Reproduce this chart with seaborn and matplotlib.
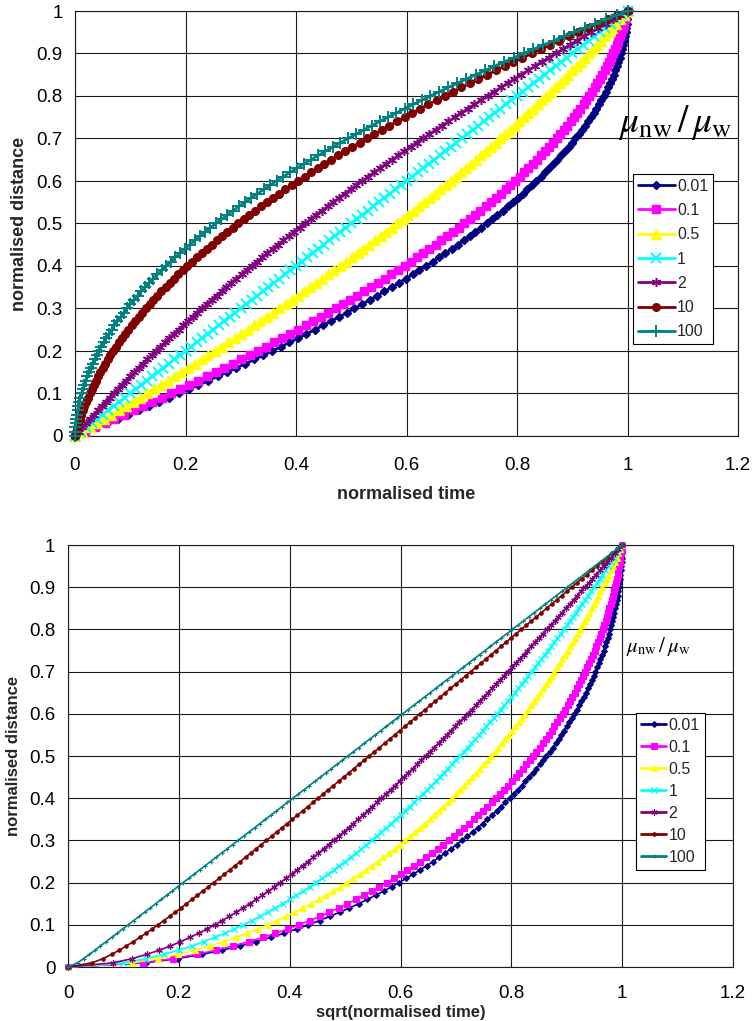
import numpy as np
import matplotlib
matplotlib.use("Agg")
import matplotlib.pyplot as plt
import seaborn as sns

# Normalised front position (sampled every 1 % of the tube length)
distance = [
    0.00, 0.01, 0.02, 0.03, 0.04, 0.05, 0.06, 0.07, 0.08, 0.09,
    0.10, 0.11, 0.12, 0.13, 0.14, 0.15, 0.16, 0.17, 0.18, 0.19,
    0.20, 0.21, 0.22, 0.23, 0.24, 0.25, 0.26, 0.27, 0.28, 0.29,
    0.30, 0.31, 0.32, 0.33, 0.34, 0.35, 0.36, 0.37, 0.38, 0.39,
    0.40, 0.41, 0.42, 0.43, 0.44, 0.45, 0.46, 0.47, 0.48, 0.49,
    0.50, 0.51, 0.52, 0.53, 0.54, 0.55, 0.56, 0.57, 0.58, 0.59,
    0.60, 0.61, 0.62, 0.63, 0.64, 0.65, 0.66, 0.67, 0.68, 0.69,
    0.70, 0.71, 0.72, 0.73, 0.74, 0.75, 0.76, 0.77, 0.78, 0.79,
    0.80, 0.81, 0.82, 0.83, 0.84, 0.85, 0.86, 0.87, 0.88, 0.89,
    0.90, 0.91, 0.92, 0.93, 0.94, 0.95, 0.96, 0.97, 0.98, 0.99, 1.00,
]

# Normalised time at which the front reaches each position, per viscosity ratio
time_ratio_0_01 = [
    0.0, 0.0197, 0.0392, 0.0585, 0.0776, 0.0966, 0.1153, 0.1338, 0.1521, 0.1703,
    0.1882, 0.2060, 0.2235, 0.2409, 0.2580, 0.2750, 0.2917, 0.3083, 0.3247, 0.3409,
    0.3568, 0.3726, 0.3882, 0.4036, 0.4188, 0.4338, 0.4486, 0.4632, 0.4776, 0.4918,
    0.5058, 0.5197, 0.5333, 0.5467, 0.5600, 0.5730, 0.5858, 0.5985, 0.6109, 0.6232,
    0.6352, 0.6471, 0.6588, 0.6702, 0.6815, 0.6926, 0.7035, 0.7142, 0.7247, 0.7350,
    0.7450, 0.7550, 0.7647, 0.7742, 0.7835, 0.7926, 0.8015, 0.8102, 0.8188, 0.8271,
    0.8352, 0.8432, 0.8509, 0.8585, 0.8658, 0.8730, 0.8800, 0.8867, 0.8933, 0.8997,
    0.9058, 0.9118, 0.9176, 0.9232, 0.9286, 0.9338, 0.9388, 0.9436, 0.9482, 0.9526,
    0.9568, 0.9609, 0.9647, 0.9683, 0.9717, 0.9750, 0.9780, 0.9809, 0.9835, 0.9860,
    0.9882, 0.9903, 0.9921, 0.9938, 0.9953, 0.9966, 0.9976, 0.9985, 0.9992, 0.9997, 1.0,
]
time_ratio_0_1 = [
    0.0, 0.0181, 0.0360, 0.0538, 0.0714, 0.0889, 0.1061, 0.1233, 0.1402, 0.1570,
    0.1736, 0.1901, 0.2064, 0.2225, 0.2385, 0.2543, 0.2700, 0.2854, 0.3008, 0.3159,
    0.3309, 0.3457, 0.3604, 0.3749, 0.3892, 0.4034, 0.4174, 0.4313, 0.4449, 0.4585,
    0.4718, 0.4850, 0.4980, 0.5109, 0.5236, 0.5361, 0.5485, 0.5607, 0.5728, 0.5846,
    0.5964, 0.6079, 0.6193, 0.6305, 0.6416, 0.6525, 0.6632, 0.6738, 0.6842, 0.6945,
    0.7045, 0.7145, 0.7242, 0.7338, 0.7432, 0.7525, 0.7616, 0.7705, 0.7793, 0.7879,
    0.7964, 0.8046, 0.8128, 0.8207, 0.8285, 0.8361, 0.8436, 0.8509, 0.8580, 0.8650,
    0.8718, 0.8785, 0.8849, 0.8913, 0.8974, 0.9034, 0.9092, 0.9149, 0.9204, 0.9257,
    0.9309, 0.9359, 0.9408, 0.9454, 0.9500, 0.9543, 0.9585, 0.9625, 0.9664, 0.9701,
    0.9736, 0.9770, 0.9802, 0.9833, 0.9861, 0.9889, 0.9914, 0.9938, 0.9960, 0.9981, 1.0,
]
time_ratio_0_5 = [
    0.0, 0.0133, 0.0265, 0.0397, 0.0528, 0.0658, 0.0788, 0.0917, 0.1045, 0.1173,
    0.1300, 0.1426, 0.1552, 0.1677, 0.1801, 0.1925, 0.2048, 0.2170, 0.2292, 0.2413,
    0.2533, 0.2653, 0.2772, 0.2890, 0.3008, 0.3125, 0.3241, 0.3357, 0.3472, 0.3586,
    0.3700, 0.3813, 0.3925, 0.4037, 0.4148, 0.4258, 0.4368, 0.4477, 0.4585, 0.4693,
    0.4800, 0.4906, 0.5012, 0.5117, 0.5221, 0.5325, 0.5428, 0.5530, 0.5632, 0.5733,
    0.5833, 0.5933, 0.6032, 0.6130, 0.6228, 0.6325, 0.6421, 0.6517, 0.6612, 0.6706,
    0.6800, 0.6893, 0.6985, 0.7077, 0.7168, 0.7258, 0.7348, 0.7437, 0.7525, 0.7613,
    0.7700, 0.7786, 0.7872, 0.7957, 0.8041, 0.8125, 0.8208, 0.8290, 0.8372, 0.8453,
    0.8533, 0.8613, 0.8692, 0.8770, 0.8848, 0.8925, 0.9001, 0.9077, 0.9152, 0.9226,
    0.9300, 0.9373, 0.9445, 0.9517, 0.9588, 0.9658, 0.9728, 0.9797, 0.9865, 0.9933, 1.0,
]
time_ratio_1 = [
    0.00, 0.01, 0.02, 0.03, 0.04, 0.05, 0.06, 0.07, 0.08, 0.09,
    0.10, 0.11, 0.12, 0.13, 0.14, 0.15, 0.16, 0.17, 0.18, 0.19,
    0.20, 0.21, 0.22, 0.23, 0.24, 0.25, 0.26, 0.27, 0.28, 0.29,
    0.30, 0.31, 0.32, 0.33, 0.34, 0.35, 0.36, 0.37, 0.38, 0.39,
    0.40, 0.41, 0.42, 0.43, 0.44, 0.45, 0.46, 0.47, 0.48, 0.49,
    0.50, 0.51, 0.52, 0.53, 0.54, 0.55, 0.56, 0.57, 0.58, 0.59,
    0.60, 0.61, 0.62, 0.63, 0.64, 0.65, 0.66, 0.67, 0.68, 0.69,
    0.70, 0.71, 0.72, 0.73, 0.74, 0.75, 0.76, 0.77, 0.78, 0.79,
    0.80, 0.81, 0.82, 0.83, 0.84, 0.85, 0.86, 0.87, 0.88, 0.89,
    0.90, 0.91, 0.92, 0.93, 0.94, 0.95, 0.96, 0.97, 0.98, 0.99, 1.00,
]
time_ratio_2 = [
    0.0, 0.0067, 0.0135, 0.0203, 0.0272, 0.0342, 0.0412, 0.0483, 0.0555, 0.0627,
    0.0700, 0.0774, 0.0848, 0.0923, 0.0999, 0.1075, 0.1152, 0.1230, 0.1308, 0.1387,
    0.1467, 0.1547, 0.1628, 0.1710, 0.1792, 0.1875, 0.1959, 0.2043, 0.2128, 0.2214,
    0.2300, 0.2387, 0.2475, 0.2563, 0.2652, 0.2742, 0.2832, 0.2923, 0.3015, 0.3107,
    0.3200, 0.3294, 0.3388, 0.3483, 0.3579, 0.3675, 0.3772, 0.3870, 0.3968, 0.4067,
    0.4167, 0.4267, 0.4368, 0.4470, 0.4572, 0.4675, 0.4779, 0.4883, 0.4988, 0.5094,
    0.5200, 0.5307, 0.5415, 0.5523, 0.5632, 0.5742, 0.5852, 0.5963, 0.6075, 0.6187,
    0.6300, 0.6414, 0.6528, 0.6643, 0.6759, 0.6875, 0.6992, 0.7110, 0.7228, 0.7347,
    0.7467, 0.7587, 0.7708, 0.7830, 0.7952, 0.8075, 0.8199, 0.8323, 0.8448, 0.8574,
    0.8700, 0.8827, 0.8955, 0.9083, 0.9212, 0.9342, 0.9472, 0.9603, 0.9735, 0.9867, 1.0,
]
time_ratio_10 = [
    0.0, 0.0019, 0.0040, 0.0062, 0.0086, 0.0111, 0.0139, 0.0167, 0.0198, 0.0230,
    0.0264, 0.0299, 0.0336, 0.0375, 0.0415, 0.0457, 0.0500, 0.0546, 0.0592, 0.0641,
    0.0691, 0.0743, 0.0796, 0.0851, 0.0908, 0.0966, 0.1026, 0.1087, 0.1151, 0.1215,
    0.1282, 0.1350, 0.1420, 0.1491, 0.1564, 0.1639, 0.1715, 0.1793, 0.1872, 0.1954,
    0.2036, 0.2121, 0.2207, 0.2295, 0.2384, 0.2475, 0.2568, 0.2662, 0.2758, 0.2855,
    0.2955, 0.3055, 0.3158, 0.3262, 0.3368, 0.3475, 0.3584, 0.3695, 0.3807, 0.3921,
    0.4036, 0.4154, 0.4272, 0.4393, 0.4515, 0.4639, 0.4764, 0.4891, 0.5020, 0.5150,
    0.5282, 0.5415, 0.5551, 0.5687, 0.5826, 0.5966, 0.6108, 0.6251, 0.6396, 0.6543,
    0.6691, 0.6841, 0.6992, 0.7146, 0.7300, 0.7457, 0.7615, 0.7775, 0.7936, 0.8099,
    0.8264, 0.8430, 0.8598, 0.8767, 0.8939, 0.9111, 0.9286, 0.9462, 0.9640, 0.9819, 1.0,
]
time_ratio_100 = [
    0.0, 0.0003, 0.0008, 0.0015, 0.0024, 0.0034, 0.0047, 0.0062, 0.0079, 0.0097,
    0.0118, 0.0140, 0.0165, 0.0191, 0.0220, 0.0250, 0.0283, 0.0317, 0.0353, 0.0391,
    0.0432, 0.0474, 0.0518, 0.0564, 0.0612, 0.0662, 0.0714, 0.0768, 0.0824, 0.0882,
    0.0942, 0.1003, 0.1067, 0.1133, 0.1200, 0.1270, 0.1342, 0.1415, 0.1491, 0.1568,
    0.1647, 0.1729, 0.1812, 0.1898, 0.1985, 0.2074, 0.2165, 0.2258, 0.2353, 0.2450,
    0.2550, 0.2650, 0.2753, 0.2858, 0.2965, 0.3074, 0.3185, 0.3298, 0.3412, 0.3529,
    0.3648, 0.3768, 0.3891, 0.4015, 0.4142, 0.4270, 0.4400, 0.4533, 0.4667, 0.4803,
    0.4942, 0.5082, 0.5224, 0.5368, 0.5514, 0.5662, 0.5812, 0.5964, 0.6118, 0.6274,
    0.6432, 0.6592, 0.6753, 0.6917, 0.7083, 0.7250, 0.7420, 0.7591, 0.7765, 0.7940,
    0.8118, 0.8297, 0.8479, 0.8662, 0.8847, 0.9034, 0.9224, 0.9415, 0.9608, 0.9803, 1.0,
]

ratio_labels = ["0.01", "0.1", "0.5", "1", "2", "10", "100"]
time_series = [time_ratio_0_01, time_ratio_0_1, time_ratio_0_5, time_ratio_1,
               time_ratio_2, time_ratio_10, time_ratio_100]

x_ticks = [0.0, 0.2, 0.4, 0.6, 0.8, 1.0, 1.2]
x_tick_labels = ["0", "0.2", "0.4", "0.6", "0.8", "1", "1.2"]
y_ticks = [0.0, 0.1, 0.2, 0.3, 0.4, 0.5, 0.6, 0.7, 0.8, 0.9, 1.0]
y_tick_labels = ["0", "0.1", "0.2", "0.3", "0.4", "0.5", "0.6", "0.7", "0.8", "0.9", "1"]

# Excel-like series colours and markers
colors = ["#000080", "#FF00FF", "#FFFF00", "#00FFFF", "#800080", "#800000", "#008080"]
markers = ["D", "s", "^", "x", (6, 2, 0), "o", "+"]

# marker size, marker edge width, line width for the upper and lower panel
top_style = [(4.5, 1.0, 2.0), (5.5, 1.0, 2.0), (7.0, 1.0, 2.0), (7.5, 1.4, 2.0),
             (6.5, 1.1, 2.0), (5.5, 1.0, 2.0), (8.0, 1.4, 2.0)]
bottom_style = [(3.0, 0.8, 1.2), (4.5, 0.8, 1.2), (4.5, 0.8, 1.2), (4.0, 1.0, 1.2),
                (4.5, 0.9, 1.2), (2.5, 0.8, 1.2), (2.5, 0.8, 1.2)]

sns.set_style("white")
plt.rcParams["font.family"] = ["Liberation Sans", "DejaVu Sans"]
plt.rcParams["mathtext.fontset"] = "stix"

fig = plt.figure(figsize=(7.52, 10.21), dpi=100)
ax_top = fig.add_axes([75 / 752, 1 - 436 / 1021, 663 / 752, 425 / 1021])
ax_bot = fig.add_axes([68 / 752, 1 - 967 / 1021, 665 / 752, 422 / 1021])


def draw_panel(ax, use_sqrt, styles, xpad):
    for lab, t, col, mk, (ms, mew, lw) in zip(ratio_labels, time_series, colors,
                                                markers, styles):
        xs = np.sqrt(np.asarray(t)) if use_sqrt else np.asarray(t)
        sns.lineplot(x=xs, y=distance, ax=ax, color=col, marker=mk,
                     markersize=ms, markeredgewidth=mew, markeredgecolor=col,
                     markerfacecolor=col, linewidth=lw, label=lab,
                     estimator=None, sort=False, legend=False, clip_on=False,
                     zorder=3)
    ax.set_xlim(0, 1.2)
    ax.set_ylim(0, 1)
    ax.set_xticks(x_ticks)
    ax.set_xticklabels(x_tick_labels)
    ax.set_yticks(y_ticks)
    ax.set_yticklabels(y_tick_labels)
    ax.grid(True, color="#1a1a1a", linewidth=0.8)
    ax.set_axisbelow(True)
    for sp in ax.spines.values():
        sp.set_color("#1a1a1a")
        sp.set_linewidth(0.8)
    ax.tick_params(axis="both", which="major", direction="out", length=5,
                   width=0.8, color="#1a1a1a", labelsize=13.5, labelcolor="black")
    ax.tick_params(axis="x", pad=xpad)
    ax.tick_params(axis="y", pad=4)


draw_panel(ax_top, False, top_style, 10)
draw_panel(ax_bot, True, bottom_style, 8)

ax_top.set_xlabel("normalised time", fontsize=13, fontweight="bold", labelpad=9)
ax_top.set_ylabel("normalised distance", fontsize=13, fontweight="bold", labelpad=6)
ax_bot.set_xlabel("sqrt(normalised time)", fontsize=12, fontweight="bold", labelpad=2)
ax_bot.set_ylabel("normalised distance", fontsize=12, fontweight="bold", labelpad=6)

leg_top = ax_top.legend(loc="upper left", bbox_to_anchor=(633 / 752, 1 - 174 / 1021),
                        bbox_transform=fig.transFigure, fontsize=11.5,
                        handlelength=2.3, handletextpad=0.15, labelspacing=0.58,
                        borderpad=0.3, borderaxespad=0, fancybox=False,
                        edgecolor="black", framealpha=1)
leg_top.get_frame().set_linewidth(0.8)

leg_bot = ax_bot.legend(loc="upper left", bbox_to_anchor=(636 / 752, 1 - 713 / 1021),
                        bbox_transform=fig.transFigure, fontsize=11.5,
                        handlelength=1.6, handletextpad=0.15, labelspacing=0.44,
                        borderpad=0.3, borderaxespad=0, fancybox=False,
                        edgecolor="black", framealpha=1)
leg_bot.get_frame().set_linewidth(0.8)
for handle in leg_bot.get_lines():
    handle.set_linewidth(2.0)

ratio_symbol = r"$\mu_{\mathrm{nw}}\,/\,\mu_{\mathrm{w}}$"
fig.text(675 / 752, 1 - 122 / 1021, ratio_symbol, fontsize=27, ha="center",
         va="center", color="black")
fig.text(658 / 752, 1 - 646 / 1021, ratio_symbol, fontsize=15, ha="center",
         va="center", color="black")

fig.savefig("out.png", dpi=100, facecolor="white")
